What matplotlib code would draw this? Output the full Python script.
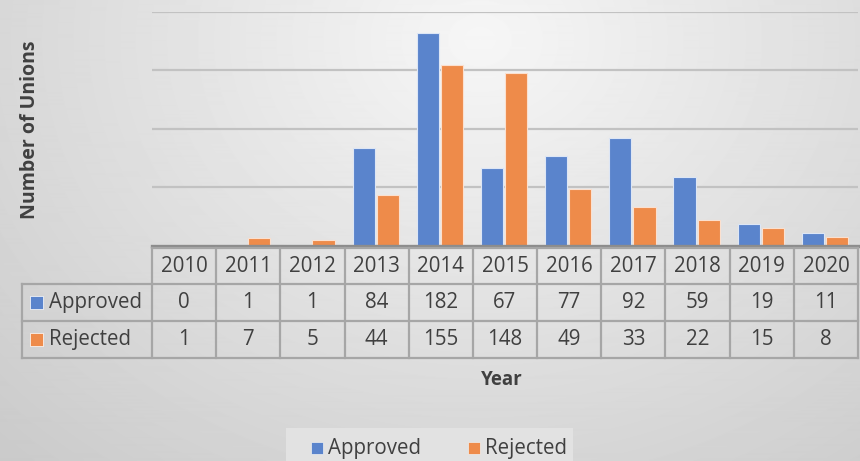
import matplotlib.pyplot as plt
import numpy as np
from matplotlib.transforms import blended_transform_factory
from matplotlib.patches import Rectangle

years = ["2010", "2011", "2012", "2013", "2014", "2015", "2016", "2017", "2018", "2019", "2020"]
approved = [0, 1, 1, 84, 182, 67, 77, 92, 59, 19, 11]
rejected = [1, 7, 5, 44, 155, 148, 49, 33, 22, 15, 8]

blue = "#5a84cc"
orange = "#ee8b4a"
txt = "#404040"
grid_c = "#a6a6a6"
font = "Open Sans"

W, H = 860, 461
fig = plt.figure(figsize=(W / 100, H / 100), dpi=100)

# radial grey background
yy, xx = np.mgrid[0:H, 0:W]
r = np.hypot(xx - 480, (yy - 40) * 1.2) / 520
bg = 0.965 - 0.13 * np.clip(r, 0, 1.3)
bga = fig.add_axes([0, 0, 1, 1], zorder=-10)
bga.imshow(bg, cmap="gray", vmin=0, vmax=1, aspect="auto", interpolation="bilinear")
bga.axis("off")

def fy(p):
    return 1 - p / H

ax = fig.add_axes([152 / W, fy(246), 706 / W, (246 - 12) / H])
ax.patch.set_alpha(0)
x = np.arange(len(years))
w = 0.345
ax.bar(x - w / 2 - 0.03, approved, w, color=blue, edgecolor="#dde6f5", linewidth=0.8, zorder=3)
ax.bar(x + w / 2, rejected, w, color=orange, edgecolor="#fbe0cf", linewidth=0.8, zorder=3)
ax.set_xlim(-0.5, len(years) - 0.5)
ax.set_ylim(0, 200)
ax.set_yticks([50, 100, 150, 200])
ax.yaxis.grid(True, color="#c2c2c2", linewidth=1.6)
ax.set_axisbelow(True)
ax.tick_params(left=False, bottom=False, labelleft=False, labelbottom=False)
for s in ["top", "right", "left"]:
    ax.spines[s].set_visible(False)
ax.spines["bottom"].set_color("#8c8c8c")
ax.spines["bottom"].set_linewidth(2.4)
ax.spines["bottom"].set_zorder(5)

# data table under the axis
tr = blended_transform_factory(ax.transData, fig.transFigure)
rows_y = [248, 284, 321, 358]
for xv in np.arange(-0.5, len(years), 1.0):
    fig.add_artist(plt.Line2D([xv, xv], [fy(248), fy(358)], transform=tr, color=grid_c, lw=1.6))
fig.add_artist(plt.Line2D([22 / W, 22 / W], [fy(284), fy(358)], color=grid_c, lw=1.6))
fig.add_artist(plt.Line2D([152 / W, 858 / W], [fy(248), fy(248)], color=grid_c, lw=1.6))
for yp in rows_y[1:]:
    fig.add_artist(plt.Line2D([22 / W, 858 / W], [fy(yp), fy(yp)], color=grid_c, lw=1.6))

fs = 14.8
for i, yr in enumerate(years):
    fig.text(i, fy(266), yr, transform=tr, ha="center", va="center", fontsize=fs, color=txt, family=font)
    fig.text(i, fy(302), str(approved[i]), transform=tr, ha="center", va="center", fontsize=fs, color=txt, family=font)
    fig.text(i, fy(339), str(rejected[i]), transform=tr, ha="center", va="center", fontsize=fs, color=txt, family=font)

for yc, lab, col in [(302, "Approved", blue), (339, "Rejected", orange)]:
    fig.add_artist(Rectangle((30 / W, fy(yc + 6.5)), 13 / W, 13 / H, transform=fig.transFigure,
                             facecolor=col, edgecolor="white", lw=0.5))
    fig.text(49 / W, fy(yc), lab, ha="left", va="center", fontsize=fs, color=txt, family=font)

fig.text(30 / W, fy(130), "Number of Unions", rotation=90, ha="center", va="center",
         fontsize=14, fontweight="bold", color=txt, family=font)
fig.text(502 / W, fy(380), "Year", ha="center", va="center",
         fontsize=13.5, fontweight="bold", color=txt, family=font)

# legend
fig.add_artist(Rectangle((286 / W, 0), 287 / W, 33 / H, transform=fig.transFigure,
                         facecolor="#e2e2e2", edgecolor="none"))
for xs, lab, col in [(311, "Approved", blue), (468, "Rejected", orange)]:
    fig.add_artist(Rectangle((xs / W, fy(454)), 12 / W, 12 / H, transform=fig.transFigure,
                             facecolor=col, edgecolor="#f0f0f0", lw=0.5))
    fig.text((xs + 17) / W, fy(448), lab, ha="left", va="center", fontsize=fs, color=txt, family=font)

fig.savefig("out.png", dpi=100)
